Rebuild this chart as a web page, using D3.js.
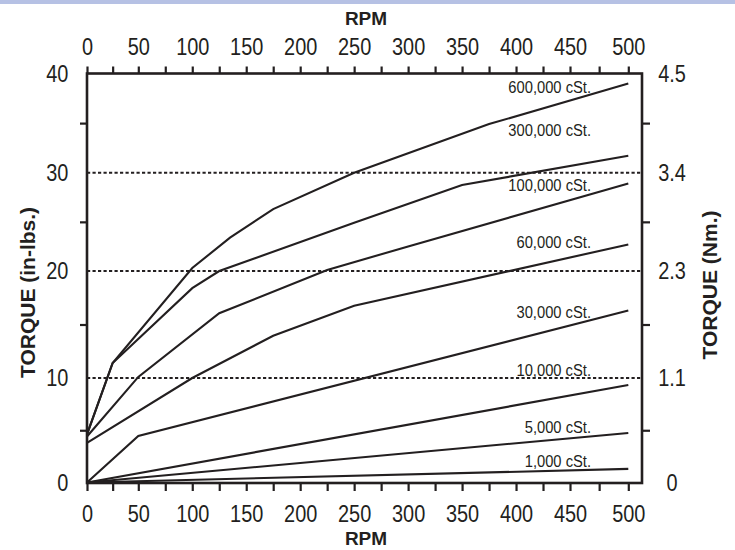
<!DOCTYPE html>
<html><head><meta charset="utf-8">
<script src="https://cdn.jsdelivr.net/npm/d3@7"></script>
<style>
body{margin:0;background:#fff}
text{fill:#231f20}
</style>
</head><body>
<svg id="chart" width="735" height="550"></svg>
<script>
// ---- data ----
const rpmTicks = [0,50,100,150,200,250,300,350,400,450,500];
const rpmMinorTicks = d3.range(0, 501, 25);
const inLbsTicks = [0,10,20,30,40];
const inLbsMinorTicks = [5,15,25,35];
const nmLabels = ["0","1.1","2.3","3.4","4.5"];
const gridValues = [10,20,30];

const seriesNames = ["600,000 cSt.","300,000 cSt.","100,000 cSt.","60,000 cSt.","30,000 cSt.","10,000 cSt.","5,000 cSt.","1,000 cSt."];
const rpm600k = [0,25,100,135,175,250,375,500];
const torque600k = [4.6,11.4,20.3,23.4,26.3,30.0,34.9,39.0];
const rpm300k = [0,25,100,125,250,350,500];
const torque300k = [4.6,11.4,18.4,20.0,24.9,28.75,31.7];
const rpm100k = [0,50,125,225,300,500];
const torque100k = [4.4,10.1,16.05,20.1,22.5,28.9];
const rpm60k = [0,100,175,250,500];
const torque60k = [3.8,10.0,13.95,16.75,22.7];
const rpm30k = [0,50,500];
const torque30k = [0,4.45,16.3];
const rpm10k = [0,500];
const torque10k = [0,9.33];
const rpm5k = [0,500];
const torque5k = [0,4.74];
const rpm1k = [0,500];
const torque1k = [0,1.3];
// label anchors (in data units)
const labelTorque = [38.07,33.72,28.09,22.34,15.61,10.19,4.71,1.49];
const labelRpm = 468;

const seriesRpm = [rpm600k,rpm300k,rpm100k,rpm60k,rpm30k,rpm10k,rpm5k,rpm1k];
const seriesTorque = [torque600k,torque300k,torque100k,torque60k,torque30k,torque10k,torque5k,torque1k];

// ---- layout ----
const pL = 87, pR = 642, pT = 73.5, pB = 483;
const ink = "#231f20";
const svg = d3.select("#chart");

svg.append("rect").attr("x",0).attr("y",0).attr("width",735).attr("height",4).attr("fill","#b6c1e4");

const x = d3.scaleLinear().domain([0,50,450,500,512.5]).range([pL,138.3,570,628.3,pR]);
const y = d3.scaleLinear().domain([0,10,20,30,40]).range([482.5,378,271,172.7,pT]);

// grid
svg.append("g").selectAll("line").data(gridValues).join("line")
  .attr("x1",pL).attr("x2",pR)
  .attr("y1",d=>y(d)).attr("y2",d=>y(d))
  .attr("stroke",ink).attr("stroke-width",2).attr("stroke-dasharray","3.2,2.3");

const font = "'Liberation Sans',Arial,sans-serif";

function condense(sel, f){
  sel.each(function(){
    const w = this.getComputedTextLength();
    d3.select(this).attr("textLength", w*f).attr("lengthAdjust","spacingAndGlyphs");
  });
}

function styleAxis(g){
  g.select(".domain").remove();
  g.selectAll(".tick line").attr("stroke",ink).attr("stroke-width",2.2);
  g.selectAll("text").attr("font-family",font).attr("font-size",24).attr("fill",ink);
  condense(g.selectAll("text"), 0.83);
}

// top axis
svg.append("g").attr("transform",`translate(0,${pT})`)
  .call(d3.axisTop(x).tickValues(rpmMinorTicks).tickSize(7).tickFormat(""))
  .call(styleAxis);
svg.append("g").attr("transform",`translate(0,${pT})`)
  .call(d3.axisTop(x).tickValues(rpmTicks).tickSize(0).tickPadding(19).tickFormat(d3.format("d")))
  .call(styleAxis);
// bottom axis
svg.append("g").attr("transform",`translate(0,${pB})`)
  .call(d3.axisBottom(x).tickValues(rpmMinorTicks).tickSize(8).tickFormat(""))
  .call(styleAxis);
svg.append("g").attr("transform",`translate(0,${pB})`)
  .call(d3.axisBottom(x).tickValues(rpmTicks).tickSize(0).tickPadding(21.5).tickFormat(d3.format("d")))
  .call(styleAxis);
// left axis
svg.append("g").attr("transform",`translate(${pL},0)`)
  .call(d3.axisLeft(y).tickValues(inLbsMinorTicks).tickSize(7).tickFormat(""))
  .call(styleAxis);
svg.append("g").attr("transform",`translate(${pL},0)`)
  .call(d3.axisLeft(y).tickValues(inLbsTicks).tickSize(0).tickPadding(18.7).tickFormat(d3.format("d")))
  .call(styleAxis);
// right axis
svg.append("g").attr("transform",`translate(${pR},0)`)
  .call(d3.axisRight(y).tickValues(inLbsMinorTicks).tickSize(8).tickFormat(""))
  .call(styleAxis);
const ra = svg.append("g").attr("transform",`translate(${pR},0)`)
  .call(d3.axisRight(y).tickValues(inLbsTicks).tickSize(0).tickPadding(30).tickFormat((d,i)=>nmLabels[i]))
  .call(styleAxis);
ra.selectAll("text").attr("text-anchor","middle");

// frame
svg.append("rect").attr("x",pL).attr("y",pT).attr("width",pR-pL).attr("height",pB-pT)
  .attr("fill","none").attr("stroke",ink).attr("stroke-width",2.6);

// series lines
const line = d3.line().x(d=>x(d[0])).y(d=>y(d[1]));
svg.append("g").selectAll("path").data(seriesRpm.map((r,i)=>r.map((v,j)=>[v,seriesTorque[i][j]]))).join("path")
  .attr("d",line).attr("fill","none").attr("stroke",ink).attr("stroke-width",2.1);

// series labels
const labels = svg.append("g").selectAll("text").data(seriesNames).join("text")
  .attr("x",x(labelRpm)).attr("y",(d,i)=>y(labelTorque[i]))
  .attr("text-anchor","end")
  .attr("font-family",font).attr("font-size",16)
  .text(d=>d);
condense(labels, 0.92);

// titles
svg.append("text").attr("x",366).attr("y",25).attr("text-anchor","middle")
  .attr("font-family",font).attr("font-weight","bold").attr("font-size",19).text("RPM");
svg.append("text").attr("x",366).attr("y",545).attr("text-anchor","middle")
  .attr("font-family",font).attr("font-weight","bold").attr("font-size",19).text("RPM");
svg.append("text").attr("transform","translate(35,292.5) rotate(-90)").attr("text-anchor","middle")
  .attr("font-family",font).attr("font-weight","bold").attr("font-size",21).text("TORQUE (in-lbs.)");
svg.append("text").attr("transform","translate(717,285) rotate(-90)").attr("text-anchor","middle")
  .attr("font-family",font).attr("font-weight","bold").attr("font-size",21).text("TORQUE (Nm.)");
</script>
</body></html>
